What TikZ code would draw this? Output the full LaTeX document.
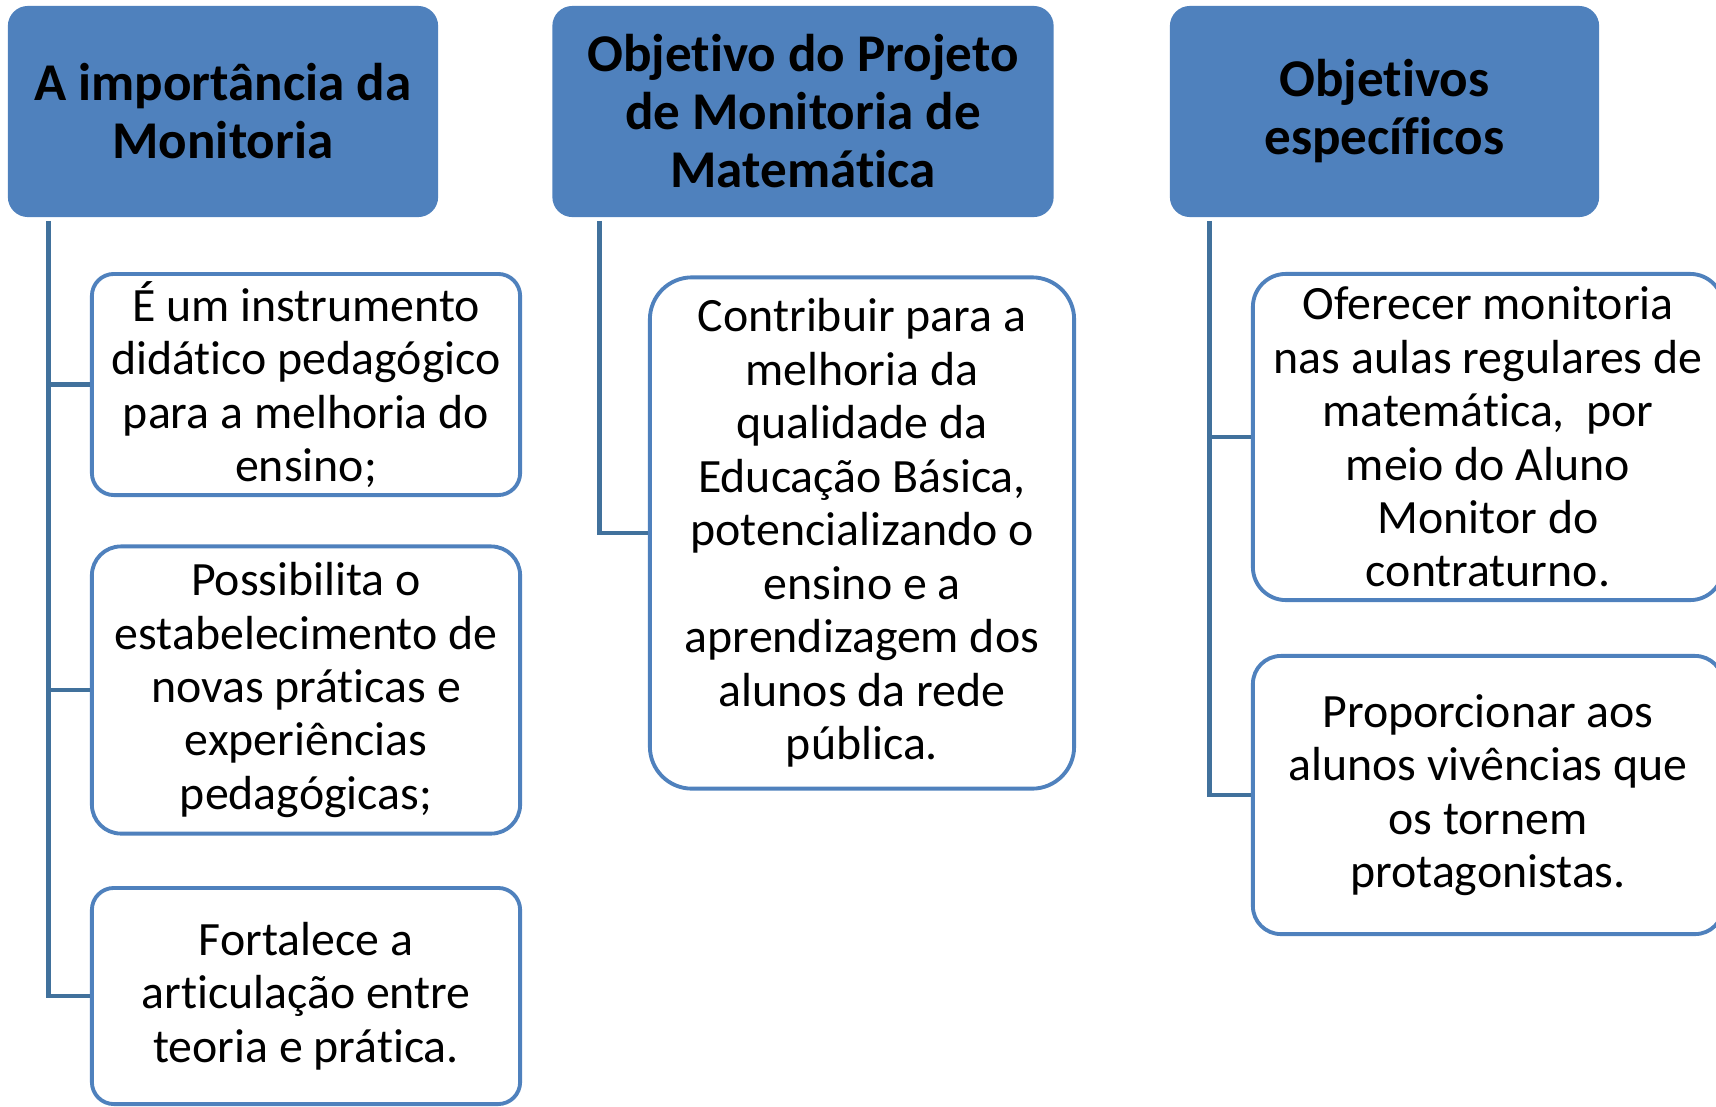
\documentclass[tikz,border=0pt]{standalone}
\usepackage{fontspec}
\setmainfont{Carlito}[Ligatures=NoCommon]
\definecolor{boxblue}{HTML}{4F81BD}
\definecolor{lineblue}{HTML}{41719C}

\begin{document}
\begin{tikzpicture}[x=0.01cm,y=-0.01cm,
  head/.style={fill=boxblue, rounded corners=0.2cm, minimum height=2.11cm, inner sep=0pt, align=center, font=\fontsize{15.1}{16.5}\selectfont\bfseries},
  item/.style={draw=boxblue, line width=1.1pt, fill=white, inner sep=0pt, align=center, font=\fontsize{13.6}{15.2}\selectfont},
  link/.style={draw=lineblue, line width=1.4pt}]
  \useasboundingbox (0,0) rectangle (1716,1106);
  % headers
  \node[head, minimum width=4.3cm] (hA) at (223,111.5) {A importância da\\Monitoria};
  \node[head, minimum width=5.01cm] (hB) at (803,111.5) {Objetivo do Projeto\\de Monitoria de\\Matemática};
  \node[head, minimum width=4.29cm] (hC) at (1384.5,111.5) {Objetivos\\específicos};
  % spines
  \coordinate (sA) at ([xshift=0.41cm,yshift=-0.03cm]hA.south west);
  \coordinate (sB) at ([xshift=0.475cm,yshift=-0.03cm]hB.south west);
  \coordinate (sC) at ([xshift=0.4cm,yshift=-0.03cm]hC.south west);
  % first column
  \node[item, minimum width=4.28cm, minimum height=2.21cm, rounded corners=0.22cm] (a1) at (306,384.5) {É um instrumento\\didático pedagógico\\para a melhoria do\\ensino;};
  \node[item, minimum width=4.28cm, minimum height=2.87cm, rounded corners=0.29cm] (a2) at (306,690) {Possibilita o\\estabelecimento de\\novas práticas e\\experiências\\pedagógicas;};
  \node[item, minimum width=4.28cm, minimum height=2.16cm, rounded corners=0.22cm] (a3) at (306,996) {Fortalece a\\articulação entre\\teoria e prática.};
  % second column
  \node[item, minimum width=4.24cm, minimum height=5.11cm, rounded corners=0.42cm] (b1) at (862,533) {Contribuir para a\\melhoria da\\qualidade da\\Educação Básica,\\potencializando o\\ensino e a\\aprendizagem dos\\alunos da rede\\pública.};
  % third column
  \node[item, minimum width=4.7cm, minimum height=3.26cm, rounded corners=0.33cm] (c1) at (1488,437) {Oferecer monitoria\\nas aulas regulares de\\matemática, \ por\\meio do Aluno\\Monitor do\\contraturno.};
  \node[item, minimum width=4.7cm, minimum height=2.78cm, rounded corners=0.28cm] (c2) at (1488,795) {Proporcionar aos\\alunos vivências que\\os tornem\\protagonistas.};
  % connectors
  \draw[link] (sA) |- (a3.west);
  \foreach \n in {a1,a2} \draw[link] (sA |- \n.west) -- (\n.west);
  \draw[link] (sB) |- (b1.west);
  \draw[link] (sC) |- (c2.west);
  \draw[link] (sC |- c1.west) -- (c1.west);
\end{tikzpicture}
\end{document}
